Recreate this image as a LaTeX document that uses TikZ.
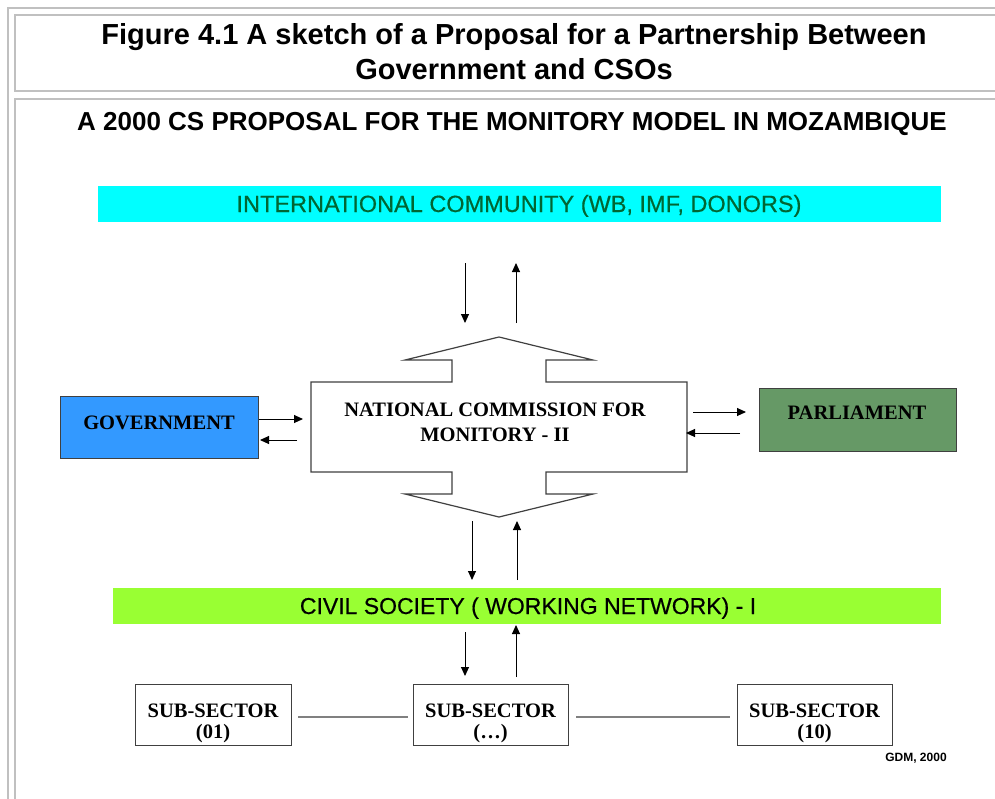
\documentclass[tikz,border=0pt]{standalone}
\usepackage{fontspec}
\setmainfont{Liberation Serif}
\newfontfamily\arialfont{Liberation Sans}
\newfontfamily\arialheavy[FakeBold=0.5]{Liberation Sans}
\usetikzlibrary{arrows.meta}
\definecolor{framegray}{HTML}{C0C0C0}
\definecolor{cyanbox}{HTML}{00FFFF}
\definecolor{darkgreentext}{HTML}{006633}
\definecolor{govblue}{HTML}{3399FF}
\definecolor{parlgreen}{HTML}{669966}
\definecolor{csgreen}{HTML}{99FF33}
\definecolor{linkgray}{HTML}{808080}
\definecolor{outlinegray}{HTML}{404040}
\begin{document}
\begin{tikzpicture}[x=1pt,y=-1pt,
  frame/.style={draw=framegray,line width=2.2pt},
  band/.style={draw=none,anchor=north west,inner sep=0pt},
  box/.style={draw=outlinegray,line width=1.2pt,anchor=north west,inner sep=0pt},
  lbl/.style={anchor=base,inner sep=0pt},
  tnr/.style={font=\bfseries\fontsize{20.5pt}{21pt}\selectfont},
  flow/.style={-{Triangle[length=9pt,width=8pt]},line width=1pt,black},
  link/.style={draw=linkgray,line width=2pt}]
\useasboundingbox (0,0) rectangle (995,798);
\fill[white] (0,0) rectangle (995,798);
% frames
\draw[frame] (1000,8) -- (8,8) -- (8,805);
\draw[frame] (1000,15) -- (15,15) -- (15,91) -- (1000,91);
\draw[frame] (1000,99) -- (15,99) -- (15,805);
% titles (base anchor = baseline of last line)
\node[lbl,align=center,font={\arialfont\bfseries\fontsize{29pt}{35pt}\selectfont}] (title) at (514,79)
  {Figure 4.1 A sketch of a Proposal for a Partnership Between\\Government and CSOs};
\node[lbl,font={\arialfont\bfseries\fontsize{26pt}{30pt}\selectfont}] (subtitle) at (512,130)
  {A 2000 CS PROPOSAL FOR THE MONITORY MODEL IN MOZAMBIQUE};
% international community
\node[band,fill=cyanbox,minimum width=843pt,minimum height=36pt] (intl) at (98,186) {};
\node[lbl,text=darkgreentext,font={\arialheavy\fontsize{23.5pt}{26pt}\selectfont}] (intltext) at (519,212)
  {INTERNATIONAL COMMUNITY (WB, IMF, DONORS)};
% central double arrow shape
\draw[draw=outlinegray,line width=1.2pt,fill=white]
  (499,337) -- (593,360) -- (546,360) -- (546,382) -- (687,382) -- (687,472)
  -- (546,472) -- (546,494) -- (593,494) -- (499,517) -- (405,494) -- (452,494)
  -- (452,472) -- (311,472) -- (311,382) -- (452,382) -- (452,360) -- (405,360) -- cycle;
\node[lbl,align=center,font={\bfseries\fontsize{20.5pt}{25pt}\selectfont}] (ncm) at (495,441)
  {NATIONAL COMMISSION FOR\\MONITORY - II};
% government & parliament
\node[box,fill=govblue,minimum width=198pt,minimum height=62pt] (gov) at (60,396) {};
\node[lbl,tnr] (govtext) at (159,429.5) {GOVERNMENT};
\node[box,fill=parlgreen,minimum width=197pt,minimum height=63pt] (parl) at (759,388) {};
\node[lbl,tnr] (parltext) at (857,419.5) {PARLIAMENT};
% civil society
\node[band,fill=csgreen,minimum width=828pt,minimum height=36pt] (cs) at (113,588) {};
\node[lbl,font={\arialheavy\fontsize{23pt}{26pt}\selectfont}] (cstext) at (528,614)
  {CIVIL SOCIETY ( WORKING NETWORK) - I};
% sub-sectors
\node[box,fill=white,minimum width=156pt,minimum height=61pt] (ss1) at (135,684) {};
\node[box,fill=white,minimum width=155pt,minimum height=61pt] (ss2) at (413,684) {};
\node[box,fill=white,minimum width=155pt,minimum height=61pt] (ss3) at (737,684) {};
\node[lbl,tnr,align=center] (ss1text) at (213,738) {SUB-SECTOR\\(01)};
\node[lbl,tnr,align=center] (ss2text) at (490.5,738) {SUB-SECTOR\\(\dots)};
\node[lbl,tnr,align=center] (ss3text) at (814.5,738) {SUB-SECTOR\\(10)};
\draw[link] ([xshift=6pt,yshift=-1.5pt]ss1.east) -- ([xshift=-5pt,yshift=-1.5pt]ss2.west);
\draw[link] ([xshift=7pt,yshift=-1.5pt]ss2.east) -- ([xshift=-7pt,yshift=-1.5pt]ss3.west);
\node[lbl,font={\arialfont\bfseries\fontsize{12pt}{13pt}\selectfont}] (gdm) at (916,761) {GDM, 2000};
% arrow end points
\coordinate (t1a) at (465,263); \coordinate (t1b) at (465,323);
\coordinate (t2a) at (516,323); \coordinate (t2b) at (516,263);
\coordinate (g1a) at (259,419); \coordinate (g1b) at (303,419);
\coordinate (g2a) at (297,440); \coordinate (g2b) at (260,440);
\coordinate (p1a) at (693,412); \coordinate (p1b) at (746,412);
\coordinate (p2a) at (740,433); \coordinate (p2b) at (686,433);
\coordinate (m1a) at (472,521); \coordinate (m1b) at (472,580);
\coordinate (m2a) at (517,580); \coordinate (m2b) at (517,521);
\coordinate (b1a) at (465,632); \coordinate (b1b) at (465,676);
\coordinate (b2a) at (516,677); \coordinate (b2b) at (516,625);
\draw[flow] (t1a) -- (t1b);
\draw[flow] (t2a) -- (t2b);
\draw[flow] (g1a) -- (g1b);
\draw[flow] (g2a) -- (g2b);
\draw[flow] (p1a) -- (p1b);
\draw[flow] (p2a) -- (p2b);
\draw[flow] (m1a) -- (m1b);
\draw[flow] (m2a) -- (m2b);
\draw[flow] (b1a) -- (b1b);
\draw[flow] (b2a) -- (b2b);
\end{tikzpicture}
\end{document}
